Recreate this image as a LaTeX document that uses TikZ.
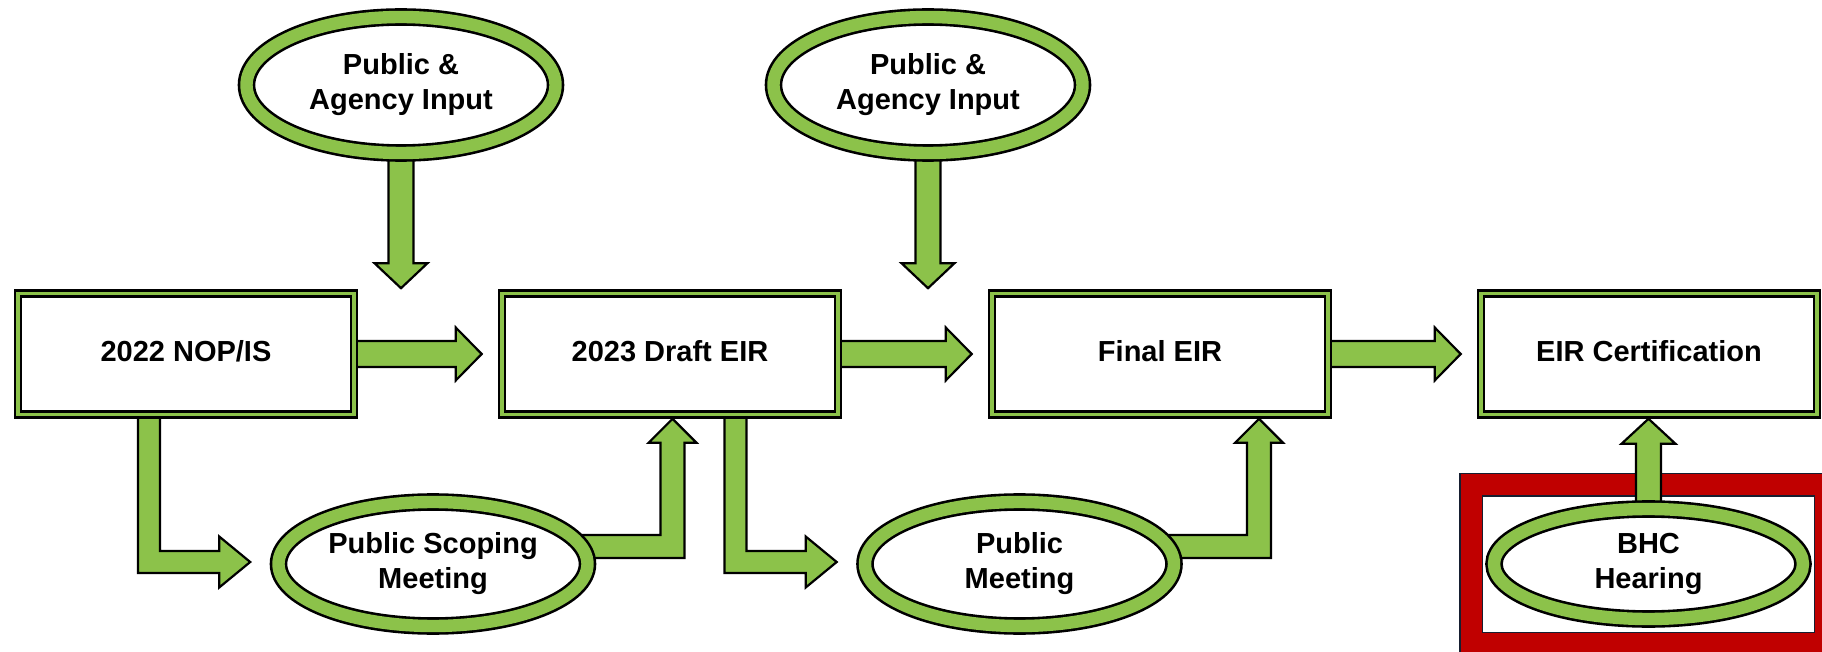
\documentclass[tikz,border=0pt]{standalone}
\usepackage{fontspec}
\setmainfont{Liberation Sans}
\usetikzlibrary{calc,backgrounds,shapes.geometric}
\definecolor{leaf}{RGB}{140,194,74}
\definecolor{hearingred}{RGB}{192,0,0}
\definecolor{navy}{RGB}{22,30,48}

\newcommand{\rightblk}[2]{%
  \draw[blk] ($(#1.center)+(0,-13)$) -- ($(#2.west)+(-45,-13)$) -- ($(#2.west)+(-45,-26.5)$)
    -- ($(#2.west)+(-19,0)$) -- ($(#2.west)+(-45,26.5)$) -- ($(#2.west)+(-45,13)$)
    -- ($(#1.center)+(0,13)$) -- cycle;}
\newcommand{\downblk}[2]{%
  \coordinate (tip) at ($(#1.center |- #2.north)+(0,-4)$);
  \draw[blk] ($(#1.center)+(-12.5,0)$) -- ($(tip)+(-12.5,-25)$) -- ($(tip)+(-26.5,-25)$)
    -- (tip) -- ($(tip)+(26.5,-25)$) -- ($(tip)+(12.5,-25)$) -- ($(#1.center)+(12.5,0)$) -- cycle;}
\newcommand{\upblk}[2]{%
  \coordinate (tip) at ($(#1.center |- #2.south)+(0,3)$);
  \draw[blk] ($(#1.center)+(-12.5,0)$) -- ($(tip)+(-12.5,25)$) -- ($(tip)+(-27,25)$)
    -- (tip) -- ($(tip)+(27,25)$) -- ($(tip)+(12.5,25)$) -- ($(#1.center)+(12.5,0)$) -- cycle;}
\newcommand{\elbowdown}[2]{%
  \coordinate (knee) at ($(#2.center)+(-284,-2)$);
  \coordinate (tip) at ($(#2.west)+(-27,-2)$);
  \draw[blk] ($(knee |- #1.center)+(-11,0)$) -- ($(knee)+(-11,11)$) -- ($(tip)+(-31,11)$)
    -- ($(tip)+(-31,25.5)$) -- (tip) -- ($(tip)+(-31,-25.5)$) -- ($(tip)+(-31,-11)$)
    -- ($(knee)+(11,-11)$) -- ($(knee |- #1.center)+(11,0)$) -- cycle;}
\newcommand{\elbowup}[2]{%
  \coordinate (knee) at ($(#1.center)+(239.5,-17.5)$);
  \coordinate (tip) at ($(knee |- #2.south)+(0,3)$);
  \draw[blk] ($(#1.center |- knee)+(0,11.5)$) -- ($(knee)+(12,11.5)$) -- ($(tip)+(12,24)$)
    -- ($(tip)+(24,24)$) -- (tip) -- ($(tip)+(-24,24)$) -- ($(tip)+(-12,24)$)
    -- ($(knee)+(-12,-11.5)$) -- ($(#1.center |- knee)+(0,-11.5)$) -- cycle;}

\begin{document}
\begin{tikzpicture}[
x=0.5pt, y=-0.5pt,
font=\fontsize{14.5}{17.5}\selectfont\bfseries,
stage/.style = {draw=black, line width=1.3pt, double=leaf, double distance=1.7pt, fill=white,
  minimum width=168pt, minimum height=60.5pt, text depth=3pt},
event/.style = {ellipse, draw=black, line width=1.3pt, double=leaf, double distance=6.2pt, fill=white,
  inner sep=0pt, align=center, minimum width=154.5pt, minimum height=68pt},
redframe/.style = {draw=navy, line width=0.75pt, double=hearingred, double distance=10.5pt, fill=white,
  minimum width=177.25pt, minimum height=79.5pt},
blk/.style = {draw=black, line width=1.1pt, fill=leaf, line join=miter}
]
  \useasboundingbox (0,0) rectangle (1822,652);

  \node[stage] (nop) at (186,354) {2022 NOP/IS};
  \node[stage] (draft) at (670,354) {2023 Draft EIR};
  \node[stage] (final) at (1160,354) {Final EIR};
  \node[stage] (cert) at (1649,354) {EIR Certification};

  \node[event] (input1) at (401,85) {Public \&\\Agency Input};
  \node[event] (input2) at (928,85) {Public \&\\Agency Input};
  \node[event, minimum height=62pt] (scoping) at (433,564) {Public Scoping\\Meeting};
  \node[event, minimum height=62pt] (meeting) at (1019.5,564) {Public\\Meeting};
  \node[event, minimum height=55pt] (bhc) at (1648.5,564) {BHC\\Hearing};

  \begin{scope}[on background layer]
    \node[redframe] (bhcframe) at (1648.25,564) {};
    \rightblk{nop}{draft}
    \rightblk{draft}{final}
    \rightblk{final}{cert}
    \downblk{input1}{nop}
    \downblk{input2}{draft}
    \elbowdown{nop}{scoping}
    \elbowdown{draft}{meeting}
    \elbowup{scoping}{draft}
    \elbowup{meeting}{final}
    \upblk{bhc}{cert}
  \end{scope}
\end{tikzpicture}
\end{document}
